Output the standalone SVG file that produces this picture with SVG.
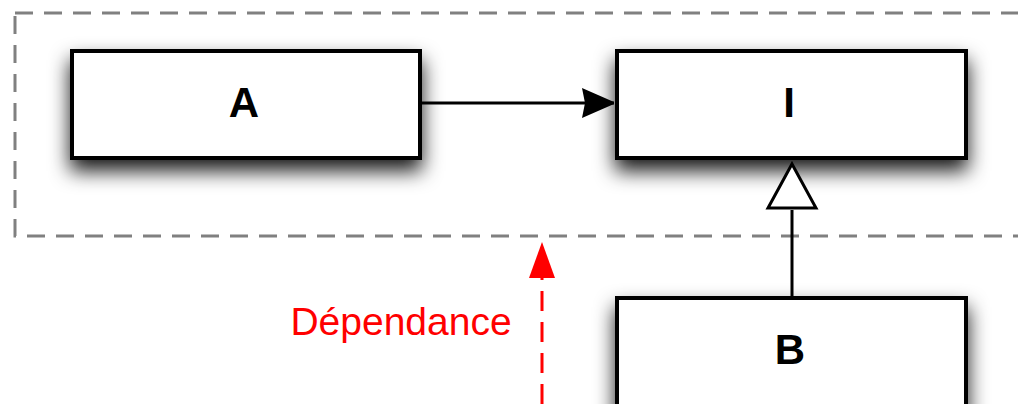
<svg xmlns="http://www.w3.org/2000/svg" width="1018" height="404" viewBox="0 0 1018 404">
  <defs>
    <filter id="shadow" x="-20%" y="-50%" width="140%" height="220%">
      <feDropShadow dx="0" dy="11" stdDeviation="10" flood-color="#000" flood-opacity="0.9"/>
    </filter>
    <marker id="filled" markerWidth="32" markerHeight="32" refX="32" refY="16" orient="auto" markerUnits="userSpaceOnUse">
      <path d="M0,1 L32,15 L32,17 L0,31 L3,16 Z" fill="#000"/>
    </marker>
  </defs>
  <style>
    .box { fill: #fff; stroke: #000; stroke-width: 4; }
    .lbl { font-family: "Liberation Sans", Arial, sans-serif; font-weight: bold; font-size: 42px; text-anchor: middle; fill: #000; }
    .edge { stroke: #000; stroke-width: 3; fill: none; }
  </style>
  <rect id="package" x="15" y="13" width="1020" height="223" fill="none" stroke="#808080" stroke-width="3" stroke-dasharray="18 11"/>
  <g id="node-A">
    <rect class="box" x="72" y="51" width="348" height="107" filter="url(#shadow)"/>
    <text class="lbl" x="244" y="117">A</text>
  </g>
  <g id="node-I">
    <rect class="box" x="617" y="51" width="349" height="107" filter="url(#shadow)"/>
    <text class="lbl" x="789" y="117">I</text>
  </g>
  <g id="node-B">
    <rect class="box" x="617" y="298" width="349" height="130" filter="url(#shadow)"/>
    <text class="lbl" x="790" y="364">B</text>
  </g>
  <g id="connectors">
    <line class="edge" x1="420" y1="103" x2="614" y2="103" marker-end="url(#filled)"/>
    <line class="edge" x1="792" y1="298" x2="792" y2="210"/>
    <path d="M792,164 L816,208 L768,208 Z" fill="#fff" stroke="#000" stroke-width="3"/>
    <line x1="542" y1="404" x2="542" y2="276" stroke="#ff0000" stroke-width="3" stroke-dasharray="20 11"/>
    <path d="M542,242 L555,278 L529,278 Z" fill="#ff0000"/>
  </g>
  <text id="dep-label" x="401" y="335" font-family="'Liberation Sans', Arial, sans-serif" font-size="39" text-anchor="middle" fill="#ff0000">Dépendance</text>
</svg>
